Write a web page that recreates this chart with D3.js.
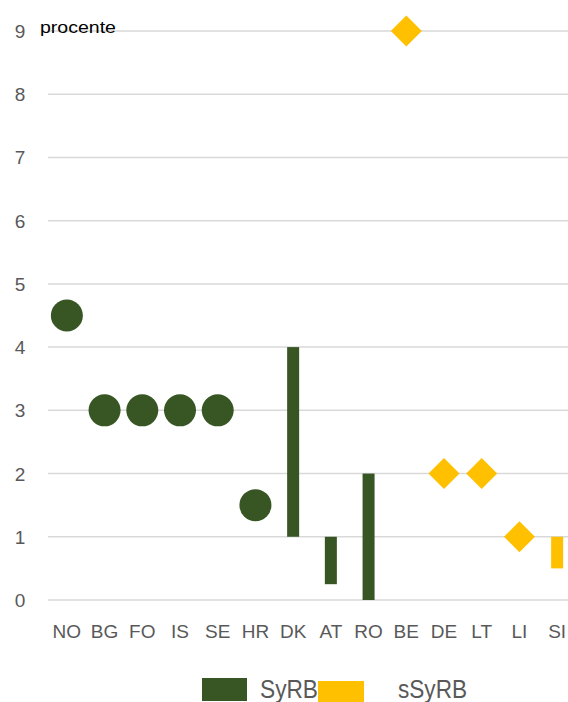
<!DOCTYPE html>
<html><head><meta charset="utf-8">
<script src="https://cdn.jsdelivr.net/npm/d3@7"></script>
<style>body{margin:0;background:#fff}svg{display:block}</style>
</head><body><svg id="c" width="568" height="702"></svg>
<script>
const categories = ["NO","BG","FO","IS","SE","HR","DK","AT","RO","BE","DE","LT","LI","SI"];
const yTicks = [0,1,2,3,4,5,6,7,8,9];
const syrbPointCats = ["NO","BG","FO","IS","SE","HR"];
const syrbPointVals = [4.5,3,3,3,3,1.5];
const syrbRangeCats = ["DK","AT","RO"];
const syrbRangeLow = [1,0.25,0];
const syrbRangeHigh = [4,1,2];
const ssyrbPointCats = ["BE","DE","LT","LI"];
const ssyrbPointVals = [9,2,2,1];
const ssyrbRangeCats = ["SI"];
const ssyrbRangeLow = [0.5];
const ssyrbRangeHigh = [1];
const seriesNames = ["SyRB","sSyRB"];
const colors = {SyRB:"#375623", sSyRB:"#FFC000"};

const svg = d3.select("#c");
const x = d3.scaleBand().domain(categories).range([48,576]).padding(0);
const y = d3.scaleLinear().domain([0,9]).range([600,31]);
const font = "'Liberation Sans', Arial, sans-serif";

// gridlines
svg.append("g").selectAll("line").data(yTicks).join("line")
  .attr("x1",48).attr("x2",568).attr("y1",d=>y(d)).attr("y2",d=>y(d))
  .attr("stroke","#d9d9d9").attr("stroke-width",1.5);

// y tick labels
svg.append("g").selectAll("text").data(yTicks).join("text")
  .attr("x",20).attr("y",d=>y(d)+7).attr("text-anchor","middle")
  .attr("font-family",font).attr("font-size",19).attr("fill","#595959").text(d=>d);

// x labels
svg.append("g").selectAll("text").data(categories).join("text")
  .attr("x",d=>x(d)+x.bandwidth()/2).attr("y",638).attr("text-anchor","middle")
  .attr("font-family",font).attr("font-size",19).attr("fill","#595959").text(d=>d);

// procente label
svg.append("text").attr("x",40).attr("y",33).attr("font-family",font).attr("font-size",17)
  .attr("fill","#000").attr("textLength",76).attr("lengthAdjust","spacingAndGlyphs").text("procente");

const cx = c => x(c)+x.bandwidth()/2;
const bw = 12;

// SyRB ranges
svg.append("g").selectAll("rect").data(syrbRangeCats).join("rect")
  .attr("x",d=>cx(d)-bw/2).attr("width",bw)
  .attr("y",(d,i)=>y(syrbRangeHigh[i])).attr("height",(d,i)=>y(syrbRangeLow[i])-y(syrbRangeHigh[i]))
  .attr("fill",colors.SyRB);
// sSyRB ranges
svg.append("g").selectAll("rect").data(ssyrbRangeCats).join("rect")
  .attr("x",d=>cx(d)-bw/2).attr("width",bw)
  .attr("y",(d,i)=>y(ssyrbRangeHigh[i])).attr("height",(d,i)=>y(ssyrbRangeLow[i])-y(ssyrbRangeHigh[i]))
  .attr("fill",colors.sSyRB);
// SyRB circles
svg.append("g").selectAll("circle").data(syrbPointCats).join("circle")
  .attr("cx",d=>cx(d)).attr("cy",(d,i)=>y(syrbPointVals[i])).attr("r",16)
  .attr("fill",colors.SyRB);
// sSyRB diamonds
const h = 15.5;
svg.append("g").selectAll("path").data(ssyrbPointCats).join("path")
  .attr("d",(d,i)=>{const px=cx(d), py=y(ssyrbPointVals[i]);
     return `M${px},${py-h}L${px+h},${py}L${px},${py+h}L${px-h},${py}Z`;})
  .attr("fill",colors.sSyRB);

// legend
const leg = svg.append("g");
leg.append("rect").attr("x",202).attr("y",678).attr("width",45).attr("height",23).attr("fill",colors.SyRB);
leg.append("text").attr("x",260).attr("y",698).attr("font-family",font).attr("font-size",25)
  .attr("fill","#595959").attr("textLength",58).attr("lengthAdjust","spacingAndGlyphs").text(seriesNames[0]);
leg.append("rect").attr("x",318).attr("y",681).attr("width",46).attr("height",21).attr("fill",colors.sSyRB);
leg.append("text").attr("x",398).attr("y",698).attr("font-family",font).attr("font-size",25)
  .attr("fill","#595959").attr("textLength",69).attr("lengthAdjust","spacingAndGlyphs").text(seriesNames[1]);
</script></body></html>
